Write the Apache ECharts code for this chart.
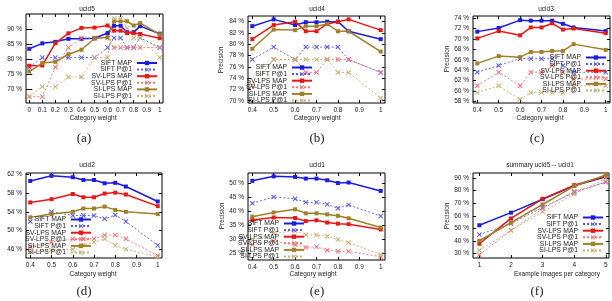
<!DOCTYPE html>
<html><head><meta charset="utf-8">
<script src="https://cdn.jsdelivr.net/npm/echarts@6/dist/echarts.min.js"></script>
<style>html,body{margin:0;padding:0;background:#fff}#c{width:612px;height:301px}</style>
</head><body><div id="c"></div>
<script>
// ---------------- data ----------------
const seriesNames = ['SIFT MAP','SIFT P@1','SV-LPS MAP','SV-LPS P@1','SI-LPS MAP','SI-LPS P@1'];

// (a) ucid5
const ucid5_x       = [0,0.1,0.2,0.3,0.4,0.5,0.6,0.65,0.7,0.75,0.8,0.85,1];
const ucid5_siftMap = [83.5,85.3,85.8,86.8,86.8,87.0,88.7,91.1,91.1,89.0,89.0,91.0,88.5];
const ucid5_siftP1  = [77.4,80.6,80.6,80.6,80.6,80.6,83.9,87.1,87.1,83.9,83.9,87.1,83.9];
const ucid5_svMap   = [77.9,78.0,85.4,88.6,90.4,90.5,91.2,89.5,89.5,88.7,88.7,88.4,87.0];
const ucid5_svP1    = [67.7,67.7,77.4,83.9,87.1,87.1,87.1,83.9,83.9,83.9,83.9,83.9,83.9];
const ucid5_siMap   = [76.0,78.8,79.2,81.7,83.2,86.9,87.3,92.6,92.6,92.6,91.2,92.0,88.3];
const ucid5_siP1    = [67.7,71.0,71.0,74.2,74.2,80.6,80.6,93.5,93.5,90.3,87.1,87.1,80.6];

// (b) ucid4
const ucid4_x       = [0.4,0.5,0.6,0.65,0.7,0.75,0.8,0.85,1];
const ucid4_siftMap = [83.2,84.4,83.4,83.9,83.9,84.0,84.0,82.3,80.9];
const ucid4_siftP1  = [77.3,79.5,77.3,79.5,79.5,79.5,79.5,77.3,75.0];
const ucid4_svMap   = [80.9,83.4,84.0,82.3,82.3,83.6,84.0,84.4,82.5];
const ucid4_svP1    = [72.7,77.3,77.3,75.0,75.0,77.3,77.3,77.3,75.0];
const ucid4_siMap   = [79.2,82.6,82.5,83.2,83.2,83.6,82.3,82.3,78.7];
const ucid4_siP1    = [72.7,77.3,77.3,77.3,77.3,77.3,75.0,75.0,70.5];

// (c) ucid3
const ucid3_x       = [0.4,0.5,0.6,0.65,0.7,0.75,0.8,0.85,1];
const ucid3_siftMap = [71.4,72.1,73.6,73.5,73.5,73.5,72.9,72.2,71.5];
const ucid3_siftP1  = [63.6,64.9,66.2,66.2,66.2,66.2,64.9,63.6,63.6];
const ucid3_svMap   = [70.1,71.5,70.7,72.2,72.2,73.0,71.8,72.0,71.1];
const ucid3_svP1    = [61.0,63.6,61.0,63.6,63.6,64.9,63.6,62.3,62.3];
const ucid3_siMap   = [65.3,66.7,66.5,67.5,67.5,67.7,67.7,69.0,67.9];
const ucid3_siP1    = [59.7,61.0,58.4,59.7,59.7,59.7,59.7,61.0,61.0];

// (d) ucid2
const ucid2_x       = [0.4,0.5,0.6,0.65,0.7,0.75,0.8,0.85,1];
const ucid2_siftMap = [60.6,61.7,61.4,60.8,60.8,60.1,60.2,59.4,56.2];
const ucid2_siftP1  = [51.9,54.0,53.2,53.2,53.2,52.5,53.3,51.9,46.8];
const ucid2_svMap   = [56.0,56.7,57.8,57.1,57.1,57.9,58.1,57.7,55.2];
const ucid2_svP1    = [46.5,47.5,48.2,48.2,48.2,49.0,49.0,48.2,44.6];
const ucid2_siMap   = [52.8,53.5,54.0,54.7,54.7,55.1,54.4,54.0,53.5];
const ucid2_siP1    = [45.4,45.8,46.0,46.9,47.5,48.2,46.8,46.0,44.3];

// (e) ucid1
const ucid1_x       = [0.4,0.5,0.6,0.65,0.7,0.75,0.8,0.85,1];
const ucid1_siftMap = [50.8,52.4,52.2,51.6,51.6,51.0,50.0,50.2,47.2];
const ucid1_siftP1  = [42.8,45.0,44.4,43.1,43.1,42.4,41.0,42.2,38.2];
const ucid1_svMap   = [36.8,37.7,37.5,36.4,36.7,35.9,35.5,35.3,33.4];
const ucid1_svP1    = [28.0,29.2,28.0,27.0,27.2,26.0,25.6,25.6,23.7];
const ucid1_siMap   = [38.0,39.5,40.6,39.2,39.2,38.8,38.3,37.4,34.1];
const ucid1_siP1    = [29.5,32.0,33.0,31.5,31.4,31.0,29.8,28.7,24.5];

// (f) summary
const summary_x       = [1,2,3,4,5];
const summary_siftMap = [52.5,62.5,73.2,83.8,91.0];
const summary_siftP1  = [45.1,53.8,66.7,78.6,86.8];
const summary_svMap   = [37.8,57.9,73.5,84.3,91.6];
const summary_svP1    = [29.0,48.5,65.7,79.4,86.8];
const summary_siMap   = [40.2,54.6,69.0,83.6,92.5];
const summary_siP1    = [32.6,48.5,63.2,77.3,89.7];

// tick labels
const ticksX_weight0 = [0,0.1,0.2,0.3,0.4,0.5,0.6,0.7,0.8,0.9,1];
const ticksX_weight4 = [0.4,0.5,0.6,0.7,0.8,0.9,1];
const ticksX_images  = [1,2,3,4,5];
const ticksY_ucid5 = [70,75,80,85,90];
const ticksY_ucid4 = [70,72,74,76,78,80,82,84];
const ticksY_ucid3 = [58,60,62,64,66,68,70,72,74];
const ticksY_ucid2 = [46,50,54,58,62];
const ticksY_ucid1 = [25,30,35,40,45,50];
const ticksY_summary = [30,40,50,60,70,80,90];

// ---------------- layout / style ----------------
const FONT = 'Liberation Sans';
const XPATH = 'path://M0,1.4L1.4,0L5,3.6L8.6,0L10,1.4L6.4,5L10,8.6L8.6,10L5,6.4L1.4,10L0,8.6L3.6,5Z';
const styles = [
  {color:'#1c1ce0', width:1.5, type:'solid', sym:'rect', size:4},
  {color:'#5a5aff', width:0.9, type:[2,2], sym:XPATH, size:5},
  {color:'#e81818', width:1.5, type:'solid', sym:'rect', size:4},
  {color:'#ff7070', width:0.9, type:[2,2], sym:XPATH, size:5},
  {color:'#a0802a', width:1.5, type:'solid', sym:'rect', size:4},
  {color:'#c8b070', width:0.9, type:[2,2], sym:XPATH, size:5}
];

const panels = [
  {x:ucid5_x, ys:[ucid5_siftMap,ucid5_siftP1,ucid5_svMap,ucid5_svP1,ucid5_siMap,ucid5_siP1],
   g:[26,14,137,89], xr:[-0.025,1.025], yr:[65.6,95], xt:ticksX_weight0, yt:ticksY_ucid5, lg:[454,59.5]},
  {x:ucid4_x, ys:[ucid4_siftMap,ucid4_siftP1,ucid4_svMap,ucid4_svP1,ucid4_siMap,ucid4_siP1],
   g:[248,16,137,87], xr:[0.38,1.02], yr:[69.6,85], xt:ticksX_weight4, yt:ticksY_ucid4, lg:[299,64]},
  {x:ucid3_x, ys:[ucid3_siftMap,ucid3_siftP1,ucid3_svMap,ucid3_svP1,ucid3_siMap,ucid3_siP1],
   g:[473,16,137,87], xr:[0.38,1.02], yr:[57.7,74.4], xt:ticksX_weight4, yt:ticksY_ucid3, lg:[5,54]},
  {x:ucid2_x, ys:[ucid2_siftMap,ucid2_siftP1,ucid2_svMap,ucid2_svP1,ucid2_siMap,ucid2_siP1],
   g:[26,173,136,85], xr:[0.38,1.02], yr:[44.1,62.3], xt:ticksX_weight4, yt:ticksY_ucid2, lg:[520,216]},
  {x:ucid1_x, ys:[ucid1_siftMap,ucid1_siftP1,ucid1_svMap,ucid1_svP1,ucid1_siMap,ucid1_siP1],
   g:[248,173,137,87], xr:[0.38,1.02], yr:[22.5,53.6], xt:ticksX_weight4, yt:ticksY_ucid1, lg:[307,220]},
  {x:summary_x, ys:[summary_siftMap,summary_siftP1,summary_svMap,summary_svP1,summary_siMap,summary_siP1],
   g:[473,173,136,85], xr:[0.8,5.1], yr:[26.5,94], xt:ticksX_images, yt:ticksY_summary, lg:[8,214]}
];

const option = {animation:false, backgroundColor:'#fff', grid:[], xAxis:[], yAxis:[], series:[], legend:[], graphic:[]};
const fmtX = v => String(+(+v).toFixed(2));
const fmtY = v => String(+(+v).toFixed(2)) + ' %';

panels.forEach((p, i) => {
  option.grid.push({left:p.g[0], top:p.g[1], width:p.g[2], height:p.g[3], show:true,
    borderColor:'#000', borderWidth:1, containLabel:false, outerBoundsMode:'none'});
  const tick = {show:true, inside:true, length:3, lineStyle:{color:'#000', width:1}};
  option.xAxis.push({type:'value', gridIndex:i, min:p.xr[0], max:p.xr[1], position:'bottom',
    axisLine:{show:false}, splitLine:{show:false},
    axisTick:Object.assign({customValues:p.xt}, tick),
    axisLabel:{customValues:p.xt, formatter:fmtX, fontFamily:FONT, fontSize:6.5, color:'#222', margin:4}});
  option.xAxis.push({type:'value', gridIndex:i, min:p.xr[0], max:p.xr[1], position:'top',
    axisLine:{show:false}, splitLine:{show:false},
    axisTick:Object.assign({customValues:p.xt}, tick), axisLabel:{show:false}});
  option.yAxis.push({type:'value', gridIndex:i, min:p.yr[0], max:p.yr[1], position:'left',
    axisLine:{show:false}, splitLine:{show:false},
    axisTick:Object.assign({customValues:p.yt}, tick),
    axisLabel:{customValues:p.yt, formatter:fmtY, fontFamily:FONT, fontSize:6.5, color:'#222', margin:4}});
  option.yAxis.push({type:'value', gridIndex:i, min:p.yr[0], max:p.yr[1], position:'right',
    axisLine:{show:false}, splitLine:{show:false},
    axisTick:Object.assign({customValues:p.yt}, tick), axisLabel:{show:false}});

  p.ys.forEach((ys, k) => {
    const s = styles[k];
    option.series.push({
      type:'line', name:seriesNames[k], xAxisIndex:2*i, yAxisIndex:2*i,
      data:p.x.map((x, j) => [x, ys[j]]),
      symbol:s.sym, symbolSize:s.size, showSymbol:true,
      lineStyle:{color:s.color, width:s.width, type:s.type},
      itemStyle:{color:s.color, borderWidth:0},
      emphasis:{disabled:true}, z:2
    });
  });

  option.legend.push({
    orient:'vertical', align:'right', right:p.lg[0], top:p.lg[1], padding:0,
    itemWidth:20, itemHeight:5.5, itemGap:-0.4, selectedMode:false,
    data:seriesNames,
    textStyle:{fontFamily:FONT, fontSize:6.8, color:'#222', lineHeight:5.6}
  });
});

// texts
const titles = [
  ['ucid5',87,9],['ucid4',317,9],['ucid3',546,9],
  ['ucid2',87,165],['ucid1',317,165],['summary ucid5 -- ucid1',540,165]
];
const xNames = [
  ['Category weight',93,118],['Category weight',317,118],['Category weight',540,118],
  ['Category weight',93,274],['Category weight',313,274],['Example images per category',557,274]
];
const yNames = [[-1.5,59],[221,60],[447,59],[-1.5,216],[222,216],[447,216]];
const captions = [['(a)',84,139],['(b)',317,139],['(c)',537,139],['(d)',84,292],['(e)',317,292],['(f)',537,292]];

titles.concat(xNames).forEach(t => option.graphic.push({type:'text', x:t[1], y:t[2], z:10,
  style:{text:t[0], fontFamily:FONT, fontSize:6.5, fill:'#222', align:'center', verticalAlign:'middle'}}));
yNames.forEach(t => option.graphic.push({type:'text', x:t[0], y:t[1], rotation:Math.PI/2, z:10,
  style:{text:'Precision', fontFamily:FONT, fontSize:6.5, fill:'#222', align:'center', verticalAlign:'middle'}}));
captions.forEach(t => option.graphic.push({type:'text', x:t[1], y:t[2], z:10,
  style:{text:t[0], fontFamily:'Liberation Serif', fontSize:13, fill:'#222', align:'center', verticalAlign:'middle'}}));

const chart = echarts.init(document.getElementById('c'), null, {renderer:'canvas'});
chart.setOption(option);
</script>
</body></html>
